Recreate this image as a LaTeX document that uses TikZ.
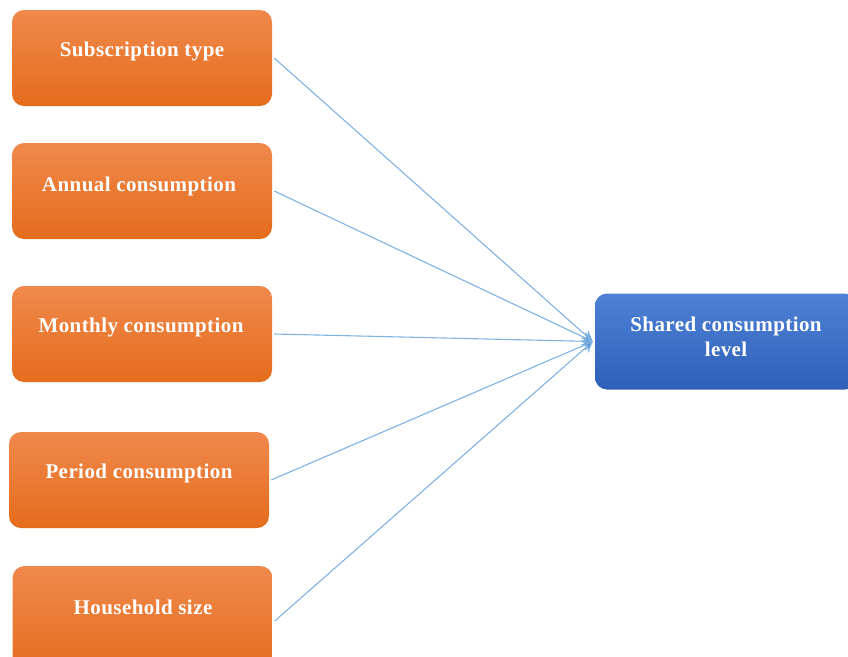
\documentclass[tikz,border=0pt]{standalone}
\usepackage{fontspec}
\setmainfont{Liberation Serif}
\usetikzlibrary{arrows.meta}
\definecolor{orangetop}{HTML}{F0894C}
\definecolor{orangebot}{HTML}{E46C1C}
\definecolor{bluetop}{HTML}{4E82D6}
\definecolor{bluebot}{HTML}{2F5FB8}
\definecolor{linkblue}{HTML}{80B3E3}
\definecolor{tipblue}{HTML}{5B9BD5}
\tikzset{
  inbox/.style={rectangle, rounded corners=12pt, minimum width=260pt, minimum height=96pt,
    top color=orangetop, bottom color=orangebot, draw=none, inner sep=0pt},
  outbox/.style={rectangle, rounded corners=12pt, minimum width=262pt, minimum height=96pt,
    top color=bluetop, bottom color=bluebot, draw=none, inner sep=0pt},
  lbl/.style={text=white, font=\bfseries\fontsize{21pt}{25pt}\selectfont\addfontfeatures{LetterSpace=2}, align=center},
  link/.style={draw=linkblue, line width=1.1pt, -{Stealth[length=11pt,width=11pt,fill=tipblue]}}
}
\begin{document}
\begin{tikzpicture}[x=1pt,y=-1pt]
  \useasboundingbox (0,0) rectangle (848,656);
  \clip (0,0) rectangle (848,656);
  % input factors
  \node[inbox] (b1) at (142,58) {};
  \node[inbox] (b2) at (142,191) {};
  \node[inbox] (b3) at (142,334) {};
  \node[inbox] (b4) at (139,480) {};
  \node[inbox, minimum height=110pt] (b5) at (142.5,621) {};
  \node[lbl] (t1) at (142,51.5) {Subscription type};
  \node[lbl] (t2) at (139,186.5) {Annual consumption};
  \node[lbl] (t3) at (141,327.5) {Monthly consumption};
  \node[lbl] (t4) at (139,473.5) {Period consumption};
  \node[lbl] (t5) at (143,607.5) {Household size};
  % outcome
  \node[outbox] (out) at (726,341.5) {};
  \node[lbl] (tout) at (726,336.5) {Shared consumption\\level};
  % connectors
  \foreach \b in {b1,b2,b3,b4,b5}
    \draw[link] ([xshift=2pt]\b.east) -- ([xshift=-2pt]out.west);
\end{tikzpicture}
\end{document}
